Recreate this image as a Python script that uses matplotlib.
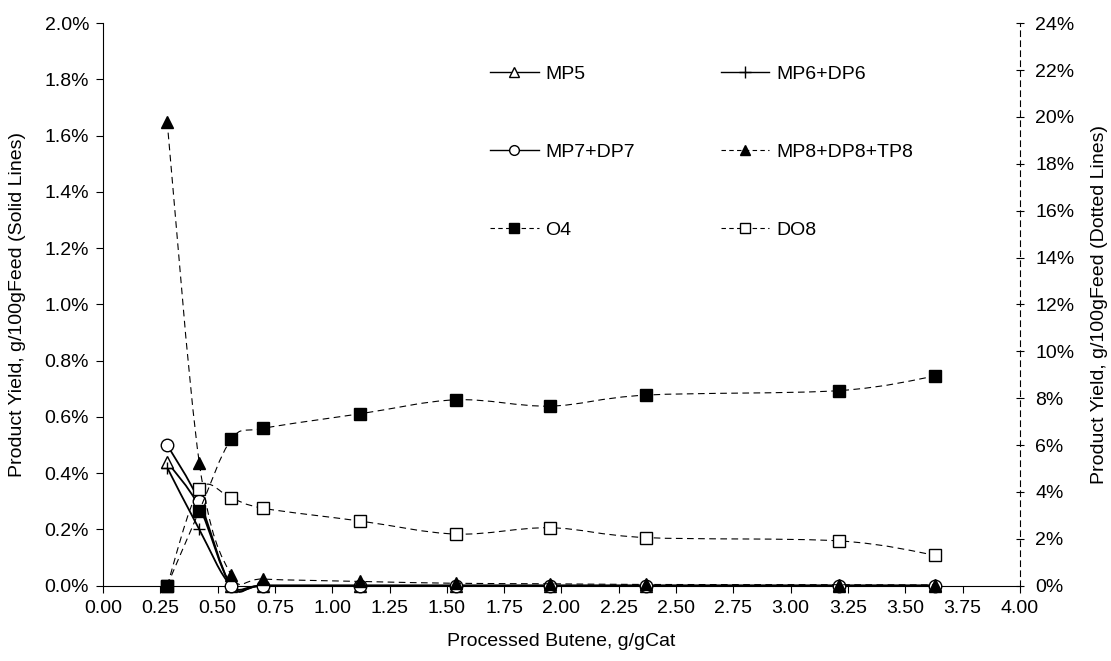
import numpy as np
import matplotlib
matplotlib.use("Agg")
import matplotlib.pyplot as plt
from matplotlib.path import Path
from matplotlib.patches import PathPatch
from matplotlib.lines import Line2D
from matplotlib.ticker import PercentFormatter, MultipleLocator

plt.rcParams["font.family"] = ["Liberation Sans", "DejaVu Sans"]
plt.rcParams["font.size"] = 14

# Processed butene, g/gCat
butene = [0.28, 0.42, 0.56, 0.70, 1.12, 1.54, 1.95, 2.37, 3.21, 3.63]

# Solid lines, left axis (%)
mp5 = [0.44, 0.28, 0.0, 0.0, 0.0, 0.0, 0.0, 0.0, 0.0, 0.0]
mp6_dp6 = [0.42, 0.20, 0.0, 0.0, 0.0, 0.0, 0.0, 0.0, 0.0, 0.0]
mp7_dp7 = [0.50, 0.30, 0.0, 0.0, 0.0, 0.0, 0.0, 0.0, 0.0, 0.0]

# Dotted lines, right axis (%)
mp8_dp8_tp8 = [19.8, 5.25, 0.45, 0.28, 0.18, 0.10, 0.08, 0.05, 0.04, 0.03]
o4 = [0.0, 3.19, 6.24, 6.71, 7.33, 7.93, 7.66, 8.13, 8.32, 8.94]
do8 = [0.0, 4.11, 3.73, 3.30, 2.76, 2.20, 2.47, 2.05, 1.91, 1.30]

DASH = (0, (6, 4))


def smooth_path(x, y):
    # spreadsheet-style smoothed line: cubic bezier through every point
    pts = np.column_stack([x, y]).astype(float)
    n = len(pts)
    verts = [pts[0]]
    codes = [Path.MOVETO]
    for i in range(n - 1):
        p0 = pts[i - 1] if i > 0 else pts[i]
        p1, p2 = pts[i], pts[i + 1]
        p3 = pts[i + 2] if i + 2 < n else pts[i + 1]
        c1 = p1 + (p2 - p0) / 6.0
        c2 = p2 - (p3 - p1) / 6.0
        verts += [c1, c2, p2]
        codes += [Path.CURVE4] * 3
    return Path(verts, codes)


def draw_series(ax, y, marker, face, ls, lw, z=3):
    ax.add_patch(PathPatch(smooth_path(butene, y), fill=False, edgecolor="black",
                           linestyle=ls, linewidth=lw, clip_on=False, zorder=2))
    ax.plot(butene, y, linestyle="none", marker=marker, markersize=9,
            markerfacecolor=face, markeredgecolor="black", markeredgewidth=1.0,
            clip_on=False, zorder=z)


fig = plt.figure(figsize=(11.11, 6.61), dpi=100)
ax = fig.add_axes([0.0927, 0.114, 0.8253, 0.851])
ax2 = ax.twinx()

draw_series(ax, mp5, "^", "white", "-", 1.3)
draw_series(ax, mp6_dp6, "+", "black", "-", 1.3)
draw_series(ax, mp7_dp7, "o", "white", "-", 1.3)
draw_series(ax2, do8, "s", "white", DASH, 0.8, z=3)
draw_series(ax2, o4, "s", "black", DASH, 0.8, z=4)
draw_series(ax2, mp8_dp8_tp8, "^", "black", DASH, 0.8, z=5)

ax.set_xlim(0, 4.0)
ax.set_ylim(0, 2.0)
ax2.set_ylim(0, 24)
ax.xaxis.set_major_locator(MultipleLocator(0.25))
ax.xaxis.set_major_formatter(plt.FormatStrFormatter("%.2f"))
ax.yaxis.set_major_locator(MultipleLocator(0.2))
ax.yaxis.set_major_formatter(PercentFormatter(xmax=100, decimals=1))
ax2.yaxis.set_major_locator(MultipleLocator(2))
ax2.yaxis.set_major_formatter(PercentFormatter(xmax=100, decimals=0))

for a in (ax, ax2):
    a.spines["top"].set_visible(False)
ax.spines["right"].set_visible(False)
ax2.spines["left"].set_visible(False)
ax2.spines["bottom"].set_visible(False)
ax2.spines["right"].set_linestyle((0, (5, 4)))
ax2.spines["right"].set_linewidth(0.8)
ax.spines["left"].set_linewidth(0.8)
ax.spines["bottom"].set_linewidth(0.8)
ax.tick_params(direction="out", length=5, width=0.8, pad=5)
ax2.tick_params(direction="inout", length=6, width=0.8, pad=8)

ax.set_xlabel("Processed Butene, g/gCat", labelpad=12)
ax.set_ylabel("Product Yield, g/100gFeed (Solid Lines)", labelpad=13)
ax2.set_ylabel("Product Yield, g/100gFeed (Dotted Lines)", labelpad=12)

handles = [
    Line2D([], [], color="black", lw=1.0, marker="^", markersize=7,
           markerfacecolor="white", markeredgecolor="black"),
    Line2D([], [], color="black", lw=1.0, marker="+", markersize=8,
           markeredgecolor="black"),
    Line2D([], [], color="black", lw=1.0, marker="o", markersize=7,
           markerfacecolor="white", markeredgecolor="black"),
    Line2D([], [], color="black", lw=0.8, ls=(0, (4, 3)), marker="^", markersize=7,
           markerfacecolor="black", markeredgecolor="black"),
    Line2D([], [], color="black", lw=0.8, ls=(0, (4, 3)), marker="s", markersize=7,
           markerfacecolor="black", markeredgecolor="black"),
    Line2D([], [], color="black", lw=0.8, ls=(0, (4, 3)), marker="s", markersize=7,
           markerfacecolor="white", markeredgecolor="black"),
]
labels = ["MP5", "MP6+DP6", "MP7+DP7", "MP8+DP8+TP8", "O4", "DO8"]
order = [0, 2, 4, 1, 3, 5]
ax2.legend([handles[i] for i in order], [labels[i] for i in order], ncol=2,
           frameon=False, loc="upper left", bbox_to_anchor=(0.422, 0.925),
           borderpad=0, borderaxespad=0,
           handlelength=2.5, handletextpad=0.35, columnspacing=4.4,
           labelspacing=3.1, fontsize=14)

fig.savefig("out.png", dpi=100)
